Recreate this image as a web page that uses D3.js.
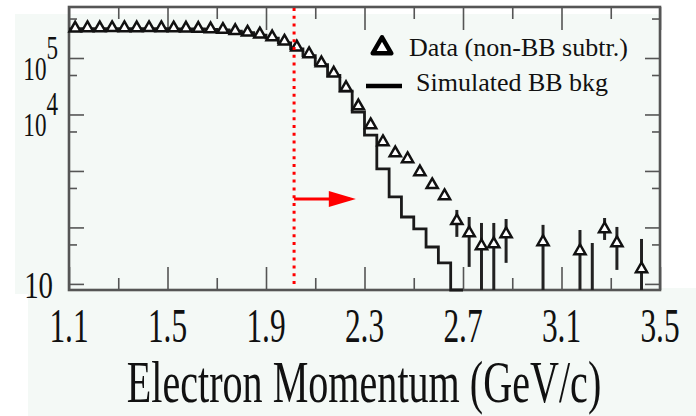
<!DOCTYPE html>
<html>
<head>
<meta charset="utf-8">
<title>Electron Momentum</title>
<script src="https://d3js.org/d3.v7.min.js"></script>
<style>
  body { margin: 0; background: #fff; }
  svg { display: block; }
  text { font-family: "Liberation Serif", "Times New Roman", serif; fill: #111; }
</style>
</head>
<body>
<div id="chart"></div>
<script>
// simulated BB background, 0.05 GeV/c bins (low edges)
var simBinLow = [1.10,1.15,1.20,1.25,1.30,1.35,1.40,1.45,1.50,1.55,1.60,1.65,1.70,1.75,1.80,1.85,
                 1.90,1.95,2.00,2.05,2.10,2.15,2.20,2.25,2.30,2.35,2.40,2.45,2.50,2.55,2.60,2.65];
var simCounts = [3.28e5,3.30e5,3.30e5,3.31e5,3.30e5,3.30e5,3.31e5,3.30e5,3.29e5,3.28e5,3.26e5,3.22e5,
                 3.14e5,3.00e5,2.80e5,2.55e5,2.25e5,1.85e5,1.45e5,1.10e5,7.6e4,4.9e4,2.6e4,1.1e4,
                 4.3e3,1085,347,153,94,45,23.5,0];
var binWidth = 0.05;

// data (non-BB subtracted), bin centres
var dataX = [1.125,1.175,1.225,1.275,1.325,1.375,1.425,1.475,1.525,1.575,1.625,1.675,1.725,1.775,1.825,
             1.875,1.925,1.975,2.025,2.075,2.125,2.175,2.225,2.275,2.325,2.375,2.425,2.475,2.525,2.575,2.625];
var dataY = [3.50e5,3.55e5,3.54e5,3.56e5,3.55e5,3.54e5,3.56e5,3.55e5,3.52e5,3.50e5,3.46e5,3.40e5,3.31e5,
             3.16e5,2.96e5,2.75e5,2.45e5,2.05e5,1.62e5,1.23e5,8.5e4,5.6e4,3.1e4,1.47e4,6.8e3,3.4e3,
             2.17e3,1.7e3,1.0e3,590,376];

// high-momentum tail with error bars (0 = below the plotted range)
var tailX  = [2.675,2.725,2.775,2.825,2.875,3.025,3.175,3.225,3.275,3.325,3.425];
var tailY  = [136,83,49,53,80,57.7,40,0,98,55.4,19.2];
var tailLo = [68,20,0,0,23.6,0,0,0,60,17.7,0];
var tailHi = [204,153,120,120,141,111,90,53,147,102,62.5];

var xMajor = [1.1,1.5,1.9,2.3,2.7,3.1,3.5];
var xMinor = [1.3,1.7,2.1,2.5,2.9,3.3];
var yMajor = [10,1e2,1e3,1e4,1e5];
var yMinor = [50,5e2,5e3,5e4,5e5];

var cutValue = 2.014;

var width = 696, height = 416;
var plotL = 69, plotR = 660, plotT = 7, plotB = 290;

var svg = d3.select("#chart").append("svg")
  .attr("width", width)
  .attr("height", height);

// paper tint
var tint = "#f4f9f6";
svg.append("rect").attr("x", 15).attr("y", 14).attr("width", plotR - 15).attr("height", 280).style("fill", tint);
svg.append("rect").attr("x", 28).attr("y", 288).attr("width", width - 28).attr("height", height - 288).style("fill", tint);

var x = d3.scaleLinear().domain([1.1, 3.5]).range([plotL, plotR]);
var y = d3.scaleLog().domain([7.8, 8.0e5]).range([plotB, plotT]).clamp(true);

function yPos(v) { return v > 0 ? y(v) : plotB; }

// axes, ticks pointing inwards on all four sides
function styleAxis(g) {
  g.select(".domain").remove();
  g.selectAll(".tick line").style("stroke", "#555").style("stroke-width", 1.6);
}
svg.append("g").attr("transform", "translate(0," + plotB + ")")
  .call(d3.axisBottom(x).tickValues(xMajor).tickSize(-23).tickFormat("")).call(styleAxis);
svg.append("g").attr("transform", "translate(0," + plotB + ")")
  .call(d3.axisBottom(x).tickValues(xMinor).tickSize(-12).tickFormat("")).call(styleAxis);
svg.append("g").attr("transform", "translate(0," + plotT + ")")
  .call(d3.axisTop(x).tickValues(xMajor).tickSize(-23).tickFormat("")).call(styleAxis);
svg.append("g").attr("transform", "translate(0," + plotT + ")")
  .call(d3.axisTop(x).tickValues(xMinor).tickSize(-12).tickFormat("")).call(styleAxis);
svg.append("g").attr("transform", "translate(" + plotL + ",0)")
  .call(d3.axisLeft(y).tickValues(yMajor).tickSize(-15).tickFormat("")).call(styleAxis);
svg.append("g").attr("transform", "translate(" + plotL + ",0)")
  .call(d3.axisLeft(y).tickValues(yMinor).tickSize(-8).tickFormat("")).call(styleAxis);
svg.append("g").attr("transform", "translate(" + plotR + ",0)")
  .call(d3.axisRight(y).tickValues(yMajor).tickSize(-15).tickFormat("")).call(styleAxis);
svg.append("g").attr("transform", "translate(" + plotR + ",0)")
  .call(d3.axisRight(y).tickValues(yMinor).tickSize(-8).tickFormat("")).call(styleAxis);

// frame
svg.append("rect")
  .attr("x", plotL).attr("y", plotT)
  .attr("width", plotR - plotL).attr("height", plotB - plotT)
  .style("fill", "none").style("stroke", "#555").style("stroke-width", 2.6);

// simulated histogram
var histPts = simBinLow.map(function(b, i) { return [b, simCounts[i]]; });
histPts.push([simBinLow[simBinLow.length - 1] + binWidth, simCounts[simCounts.length - 1]]);
var histLine = d3.line()
  .x(function(d) { return x(d[0]); })
  .y(function(d) { return yPos(d[1]); })
  .curve(d3.curveStepAfter);
svg.append("path")
  .datum(histPts)
  .attr("d", histLine)
  .style("fill", "none")
  .style("stroke", "#1a1a1a")
  .style("stroke-width", 2.8);

// error bars on the tail
tailX.forEach(function(t, i) {
  svg.append("line")
    .attr("x1", x(t)).attr("x2", x(t))
    .attr("y1", yPos(tailHi[i])).attr("y2", yPos(tailLo[i]))
    .style("stroke", "#222").style("stroke-width", 3);
});

// open triangle markers
var tri = d3.symbol().type(d3.symbolTriangle).size(54);
var markers = dataX.map(function(d, i) { return [d, dataY[i]]; })
  .concat(tailX.map(function(d, i) { return [d, tailY[i]]; }).filter(function(d) { return d[1] > 0; }));
svg.selectAll(".pt").data(markers).enter().append("path")
  .attr("class", "pt")
  .attr("d", tri)
  .attr("transform", function(d) { return "translate(" + x(d[0]) + "," + (y(d[1]) + 1) + ")"; })
  .style("fill", "#fff")
  .style("stroke", "#111")
  .style("stroke-width", 2.5);

// momentum cut and arrow
svg.append("line")
  .attr("x1", x(cutValue)).attr("x2", x(cutValue))
  .attr("y1", plotT + 1).attr("y2", plotB - 2)
  .style("stroke", "#ff0000").style("stroke-width", 3)
  .style("stroke-dasharray", "3,4.8");
var arrowY = y(320);
svg.append("line")
  .attr("x1", x(cutValue)).attr("x2", x(2.24))
  .attr("y1", arrowY).attr("y2", arrowY)
  .style("stroke", "#ff0000").style("stroke-width", 3);
svg.append("path")
  .attr("d", "M" + x(2.155) + "," + (arrowY - 8) + "L" + x(2.265) + "," + arrowY + "L" + x(2.155) + "," + (arrowY + 8) + "Z")
  .style("fill", "#ff0000");

// legend
svg.append("path")
  .attr("d", d3.symbol().type(d3.symbolTriangle).size(150))
  .attr("transform", "translate(382,48)")
  .style("fill", "#fff").style("stroke", "#000").style("stroke-width", 4.5)
  .style("stroke-linejoin", "round");
svg.append("text").attr("x", 409).attr("y", 56).style("font-size", "26px").text("Data (non-BB subtr.)");
svg.append("line").attr("x1", 366).attr("x2", 402).attr("y1", 86).attr("y2", 86)
  .style("stroke", "#000").style("stroke-width", 4.5);
svg.append("text").attr("x", 416).attr("y", 91).style("font-size", "26px").text("Simulated BB bkg");

// x tick labels
xMajor.forEach(function(v) {
  svg.append("text")
    .attr("transform", "translate(" + x(v) + ",342) scale(0.64,1)")
    .attr("text-anchor", "middle")
    .style("font-size", "49px")
    .text(d3.format(".1f")(v));
});

// y tick labels
function powerLabel(yBase, exp) {
  var t = svg.append("text")
    .attr("transform", "translate(58," + yBase + ") scale(0.68,1)")
    .attr("text-anchor", "end")
    .style("font-size", "34px");
  t.append("tspan").text("10");
  t.append("tspan").attr("dy", -21).text(exp);
}
powerLabel(y(1e5) + 22, "5");
powerLabel(y(1e4) + 22, "4");
svg.append("text")
  .attr("transform", "translate(53," + (y(10) + 14) + ") scale(0.76,1)")
  .attr("text-anchor", "end")
  .style("font-size", "38px")
  .text("10");

// axis title
svg.append("text")
  .attr("transform", "translate(364,402) scale(0.68,1)")
  .attr("text-anchor", "middle")
  .style("font-size", "59px")
  .text("Electron Momentum (GeV/c)");
</script>
</body>
</html>
